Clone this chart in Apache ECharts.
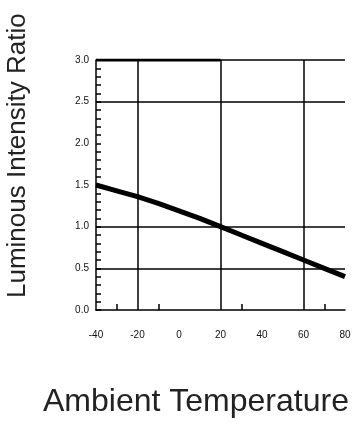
<!DOCTYPE html>
<html><head><meta charset="utf-8">
<script src="https://cdn.jsdelivr.net/npm/echarts@6/dist/echarts.min.js"></script>
<style>html,body{margin:0;padding:0;background:#fff}#c{width:357px;height:424px}</style>
</head><body><div id="c"></div>
<script>
const temperatures = [-40, -30, -20, -10, 0, 10, 20, 30, 40, 50, 60, 70, 80];
const intensityRatio = [1.5, 1.43, 1.36, 1.28, 1.19, 1.1, 1.0, 0.9, 0.8, 0.7, 0.6, 0.5, 0.4];
const capTemps = [-40, 20];
const capValues = [3.0, 3.0];
const xTickLabels = [-40, -20, 0, 20, 40, 60, 80];
const xMinorTicks = [-30, -10, 30, 70];
const vGridLines = [-20, 20, 60];
const hGridLines = [0.5, 1.0, 2.5, 3.0];

const chart = echarts.init(document.getElementById('c'));
chart.setOption({
  animation: false,
  grid: {left: 96, right: 12, top: 60, bottom: 114},
  xAxis: {
    type: 'value', min: -40, max: 80, interval: 20,
    axisLine: {show: true, onZero: false, lineStyle: {color: '#000', width: 1.5}},
    axisTick: {show: true, inside: true, length: 6, customValues: xMinorTicks, lineStyle: {color: '#000', width: 1.5}},
    axisLabel: {customValues: xTickLabels, margin: 20, fontSize: 10, color: '#111', fontFamily: 'Liberation Sans'},
    splitLine: {show: false}
  },
  yAxis: {
    type: 'value', min: 0, max: 3, interval: 0.5,
    axisLine: {show: true, onZero: false, lineStyle: {color: '#000', width: 1.5}},
    axisTick: {show: true, inside: true, length: 5, lineStyle: {color: '#000', width: 1.5}},
    minorTick: {show: true, splitNumber: 5, length: 5, lineStyle: {color: '#000', width: 1.5}},
    axisLabel: {margin: 7, fontSize: 10, color: '#111', fontFamily: 'Liberation Sans', formatter: v => v.toFixed(1)},
    splitLine: {show: false}
  },
  series: [
    {
      type: 'line', data: temperatures.map((t, i) => [t, intensityRatio[i]]),
      symbol: 'none', lineStyle: {color: '#000', width: 5},
      markLine: {
        silent: true, symbol: 'none', label: {show: false},
        lineStyle: {color: '#000', width: 1.5, type: 'solid'},
        data: vGridLines.map(v => ({xAxis: v})).concat(hGridLines.map(v => ({yAxis: v})))
      }
    },
    {
      type: 'line', data: capTemps.map((t, i) => [t, capValues[i]]),
      symbol: 'none', lineStyle: {color: '#000', width: 3}
    }
  ],
  graphic: [
    {type: 'text', left: 43, top: 386, style: {text: 'Ambient Temperature', fontSize: 32, fill: '#222', fontFamily: 'Liberation Sans'}},
    {type: 'text', x: 5, y: 298, rotation: Math.PI / 2, style: {text: 'Luminous Intensity Ratio', fontSize: 26, fill: '#222', fontFamily: 'Liberation Sans', textVerticalAlign: 'top'}}
  ]
});
</script></body></html>
